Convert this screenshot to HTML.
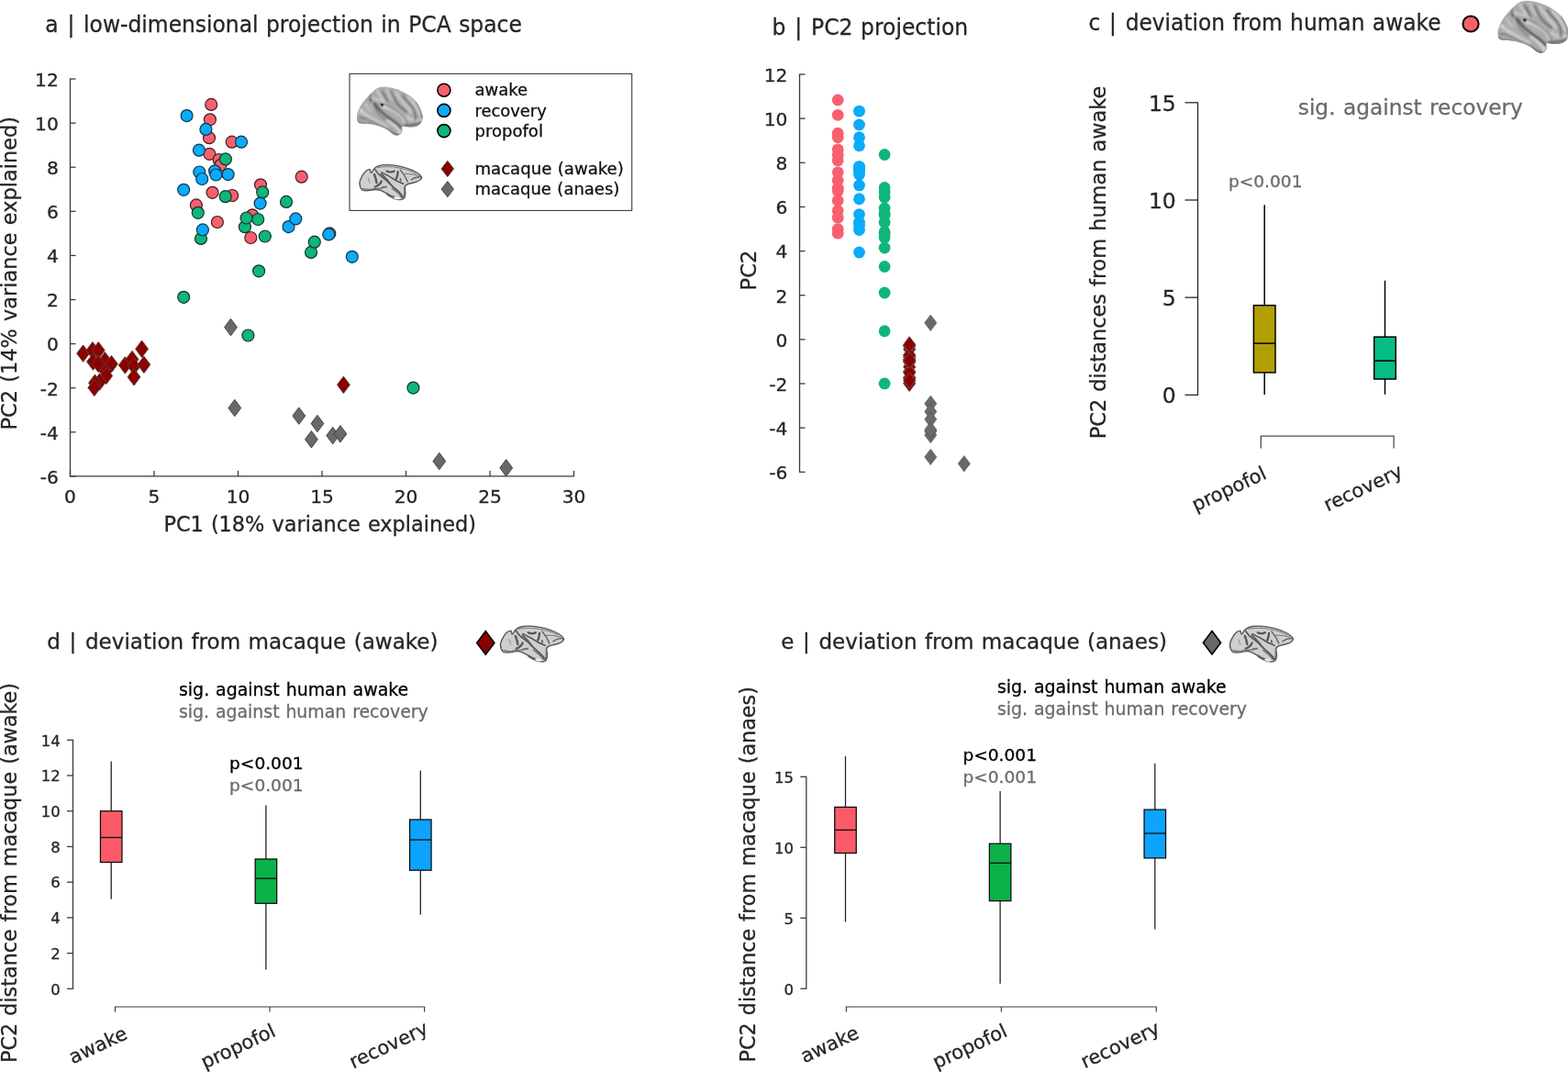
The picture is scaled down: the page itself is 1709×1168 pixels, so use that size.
<!DOCTYPE html>
<html lang="en"><head><meta charset="utf-8"><title>PCA projection figure</title>
<style>html,body{margin:0;padding:0;background:#fff}body{width:1709px;height:1168px;overflow:hidden}svg{display:block}text{font-family:'DejaVu Sans','Liberation Sans',sans-serif;white-space:pre}</style>
</head><body>
<svg width="1709" height="1168" viewBox="0 0 1709 1168" role="img" aria-label="PCA projection figure with panels a to e">
<defs><filter id="bl" x="-10%" y="-10%" width="120%" height="120%"><feGaussianBlur stdDeviation="17"/></filter><filter id="bl2" x="-50%" y="-50%" width="200%" height="200%"><feGaussianBlur stdDeviation="10"/></filter></defs>
<rect width="1709" height="1168" fill="#fff"/>
<g id="panel-a">
<text x="49.30" y="35.00" font-size="23.9" fill="#262626" text-anchor="start" word-spacing="1.08" stroke="#262626" stroke-width="0.3" textLength="519.50" lengthAdjust="spacingAndGlyphs" dx="0 1.31 0 1.31">a | low-dimensional projection in PCA space</text>
<line x1="76.50" y1="85.50" x2="76.50" y2="519.40" stroke="#3a3a3a" stroke-width="1.3"/>
<line x1="76.00" y1="518.90" x2="626.00" y2="518.90" stroke="#3a3a3a" stroke-width="1.3"/>
<line x1="76.50" y1="518.90" x2="82.50" y2="518.90" stroke="#3a3a3a" stroke-width="1.3"/>
<text x="63.80" y="526.70" font-size="20.2" fill="#262626" text-anchor="end" word-spacing="0.91" stroke="#262626" stroke-width="0.3">-6</text>
<line x1="76.50" y1="470.80" x2="82.50" y2="470.80" stroke="#3a3a3a" stroke-width="1.3"/>
<text x="63.80" y="478.60" font-size="20.2" fill="#262626" text-anchor="end" word-spacing="0.91" stroke="#262626" stroke-width="0.3">-4</text>
<line x1="76.50" y1="422.70" x2="82.50" y2="422.70" stroke="#3a3a3a" stroke-width="1.3"/>
<text x="63.80" y="430.50" font-size="20.2" fill="#262626" text-anchor="end" word-spacing="0.91" stroke="#262626" stroke-width="0.3">-2</text>
<line x1="76.50" y1="374.60" x2="82.50" y2="374.60" stroke="#3a3a3a" stroke-width="1.3"/>
<text x="63.80" y="382.40" font-size="20.2" fill="#262626" text-anchor="end" word-spacing="0.91" stroke="#262626" stroke-width="0.3">0</text>
<line x1="76.50" y1="326.50" x2="82.50" y2="326.50" stroke="#3a3a3a" stroke-width="1.3"/>
<text x="63.80" y="334.30" font-size="20.2" fill="#262626" text-anchor="end" word-spacing="0.91" stroke="#262626" stroke-width="0.3">2</text>
<line x1="76.50" y1="278.40" x2="82.50" y2="278.40" stroke="#3a3a3a" stroke-width="1.3"/>
<text x="63.80" y="286.20" font-size="20.2" fill="#262626" text-anchor="end" word-spacing="0.91" stroke="#262626" stroke-width="0.3">4</text>
<line x1="76.50" y1="230.30" x2="82.50" y2="230.30" stroke="#3a3a3a" stroke-width="1.3"/>
<text x="63.80" y="238.10" font-size="20.2" fill="#262626" text-anchor="end" word-spacing="0.91" stroke="#262626" stroke-width="0.3">6</text>
<line x1="76.50" y1="182.20" x2="82.50" y2="182.20" stroke="#3a3a3a" stroke-width="1.3"/>
<text x="63.80" y="190.00" font-size="20.2" fill="#262626" text-anchor="end" word-spacing="0.91" stroke="#262626" stroke-width="0.3">8</text>
<line x1="76.50" y1="134.10" x2="82.50" y2="134.10" stroke="#3a3a3a" stroke-width="1.3"/>
<text x="63.80" y="141.90" font-size="20.2" fill="#262626" text-anchor="end" word-spacing="0.91" stroke="#262626" stroke-width="0.3">10</text>
<line x1="76.50" y1="86.00" x2="82.50" y2="86.00" stroke="#3a3a3a" stroke-width="1.3"/>
<text x="63.80" y="93.80" font-size="20.2" fill="#262626" text-anchor="end" word-spacing="0.91" stroke="#262626" stroke-width="0.3">12</text>
<line x1="76.50" y1="518.90" x2="76.50" y2="512.90" stroke="#3a3a3a" stroke-width="1.3"/>
<text x="76.50" y="548.00" font-size="20.2" fill="#262626" text-anchor="middle" word-spacing="0.91" stroke="#262626" stroke-width="0.3">0</text>
<line x1="168.00" y1="518.90" x2="168.00" y2="512.90" stroke="#3a3a3a" stroke-width="1.3"/>
<text x="168.00" y="548.00" font-size="20.2" fill="#262626" text-anchor="middle" word-spacing="0.91" stroke="#262626" stroke-width="0.3">5</text>
<line x1="259.50" y1="518.90" x2="259.50" y2="512.90" stroke="#3a3a3a" stroke-width="1.3"/>
<text x="259.50" y="548.00" font-size="20.2" fill="#262626" text-anchor="middle" word-spacing="0.91" stroke="#262626" stroke-width="0.3">10</text>
<line x1="351.00" y1="518.90" x2="351.00" y2="512.90" stroke="#3a3a3a" stroke-width="1.3"/>
<text x="351.00" y="548.00" font-size="20.2" fill="#262626" text-anchor="middle" word-spacing="0.91" stroke="#262626" stroke-width="0.3">15</text>
<line x1="442.50" y1="518.90" x2="442.50" y2="512.90" stroke="#3a3a3a" stroke-width="1.3"/>
<text x="442.50" y="548.00" font-size="20.2" fill="#262626" text-anchor="middle" word-spacing="0.91" stroke="#262626" stroke-width="0.3">20</text>
<line x1="534.00" y1="518.90" x2="534.00" y2="512.90" stroke="#3a3a3a" stroke-width="1.3"/>
<text x="534.00" y="548.00" font-size="20.2" fill="#262626" text-anchor="middle" word-spacing="0.91" stroke="#262626" stroke-width="0.3">25</text>
<line x1="625.50" y1="518.90" x2="625.50" y2="512.90" stroke="#3a3a3a" stroke-width="1.3"/>
<text x="625.50" y="548.00" font-size="20.2" fill="#262626" text-anchor="middle" word-spacing="0.91" stroke="#262626" stroke-width="0.3">30</text>
<text x="178.40" y="578.50" font-size="22.6" fill="#262626" text-anchor="start" word-spacing="1.02" stroke="#262626" stroke-width="0.3" textLength="340.50" lengthAdjust="spacingAndGlyphs">PC1 (18% variance explained)</text>
<text x="17.80" y="297.70" font-size="22.6" fill="#262626" text-anchor="middle" word-spacing="1.02" stroke="#262626" stroke-width="0.3" transform="rotate(-90 17.80 297.70)" textLength="341.50" lengthAdjust="spacingAndGlyphs">PC2 (14% variance explained)</text>
<circle cx="230.20" cy="113.90" r="6.5" fill="#fa5f6e" stroke="#3d1f24" stroke-width="1.2"/>
<circle cx="228.90" cy="130.30" r="6.5" fill="#fa5f6e" stroke="#3d1f24" stroke-width="1.2"/>
<circle cx="228.00" cy="150.20" r="6.5" fill="#fa5f6e" stroke="#3d1f24" stroke-width="1.2"/>
<circle cx="252.70" cy="154.70" r="6.5" fill="#fa5f6e" stroke="#3d1f24" stroke-width="1.2"/>
<circle cx="228.30" cy="167.80" r="6.5" fill="#fa5f6e" stroke="#3d1f24" stroke-width="1.2"/>
<circle cx="238.60" cy="174.00" r="6.5" fill="#fa5f6e" stroke="#3d1f24" stroke-width="1.2"/>
<circle cx="240.50" cy="179.80" r="6.5" fill="#fa5f6e" stroke="#3d1f24" stroke-width="1.2"/>
<circle cx="328.70" cy="192.70" r="6.5" fill="#fa5f6e" stroke="#3d1f24" stroke-width="1.2"/>
<circle cx="284.00" cy="201.30" r="6.5" fill="#fa5f6e" stroke="#3d1f24" stroke-width="1.2"/>
<circle cx="231.50" cy="209.80" r="6.5" fill="#fa5f6e" stroke="#3d1f24" stroke-width="1.2"/>
<circle cx="253.20" cy="213.00" r="6.5" fill="#fa5f6e" stroke="#3d1f24" stroke-width="1.2"/>
<circle cx="213.90" cy="223.40" r="6.5" fill="#fa5f6e" stroke="#3d1f24" stroke-width="1.2"/>
<circle cx="275.00" cy="234.30" r="6.5" fill="#fa5f6e" stroke="#3d1f24" stroke-width="1.2"/>
<circle cx="236.90" cy="242.00" r="6.5" fill="#fa5f6e" stroke="#3d1f24" stroke-width="1.2"/>
<circle cx="359.30" cy="254.40" r="6.5" fill="#fa5f6e" stroke="#3d1f24" stroke-width="1.2"/>
<circle cx="245.90" cy="173.40" r="6.5" fill="#0fb679" stroke="#12332a" stroke-width="1.2"/>
<circle cx="286.20" cy="209.40" r="6.5" fill="#0fb679" stroke="#12332a" stroke-width="1.2"/>
<circle cx="245.70" cy="214.20" r="6.5" fill="#0fb679" stroke="#12332a" stroke-width="1.2"/>
<circle cx="312.00" cy="219.90" r="6.5" fill="#0fb679" stroke="#12332a" stroke-width="1.2"/>
<circle cx="215.80" cy="231.80" r="6.5" fill="#0fb679" stroke="#12332a" stroke-width="1.2"/>
<circle cx="266.90" cy="247.20" r="6.5" fill="#0fb679" stroke="#12332a" stroke-width="1.2"/>
<circle cx="268.60" cy="237.50" r="6.5" fill="#0fb679" stroke="#12332a" stroke-width="1.2"/>
<circle cx="281.20" cy="239.00" r="6.5" fill="#0fb679" stroke="#12332a" stroke-width="1.2"/>
<circle cx="288.80" cy="257.50" r="6.5" fill="#0fb679" stroke="#12332a" stroke-width="1.2"/>
<circle cx="219.00" cy="259.90" r="6.5" fill="#0fb679" stroke="#12332a" stroke-width="1.2"/>
<circle cx="339.00" cy="274.90" r="6.5" fill="#0fb679" stroke="#12332a" stroke-width="1.2"/>
<circle cx="342.80" cy="263.70" r="6.5" fill="#0fb679" stroke="#12332a" stroke-width="1.2"/>
<circle cx="282.10" cy="295.30" r="6.5" fill="#0fb679" stroke="#12332a" stroke-width="1.2"/>
<circle cx="200.20" cy="323.80" r="6.5" fill="#0fb679" stroke="#12332a" stroke-width="1.2"/>
<circle cx="270.40" cy="365.50" r="6.5" fill="#0fb679" stroke="#12332a" stroke-width="1.2"/>
<circle cx="450.40" cy="422.60" r="6.5" fill="#0fb679" stroke="#12332a" stroke-width="1.2"/>
<circle cx="203.60" cy="126.10" r="6.5" fill="#0aabf8" stroke="#0f3450" stroke-width="1.2"/>
<circle cx="224.40" cy="140.90" r="6.5" fill="#0aabf8" stroke="#0f3450" stroke-width="1.2"/>
<circle cx="263.00" cy="154.70" r="6.5" fill="#0aabf8" stroke="#0f3450" stroke-width="1.2"/>
<circle cx="216.90" cy="163.70" r="6.5" fill="#0aabf8" stroke="#0f3450" stroke-width="1.2"/>
<circle cx="217.30" cy="187.50" r="6.5" fill="#0aabf8" stroke="#0f3450" stroke-width="1.2"/>
<circle cx="220.20" cy="195.00" r="6.5" fill="#0aabf8" stroke="#0f3450" stroke-width="1.2"/>
<circle cx="234.10" cy="186.30" r="6.5" fill="#0aabf8" stroke="#0f3450" stroke-width="1.2"/>
<circle cx="235.40" cy="190.50" r="6.5" fill="#0aabf8" stroke="#0f3450" stroke-width="1.2"/>
<circle cx="248.60" cy="190.10" r="6.5" fill="#0aabf8" stroke="#0f3450" stroke-width="1.2"/>
<circle cx="200.20" cy="206.80" r="6.5" fill="#0aabf8" stroke="#0f3450" stroke-width="1.2"/>
<circle cx="283.60" cy="221.60" r="6.5" fill="#0aabf8" stroke="#0f3450" stroke-width="1.2"/>
<circle cx="314.50" cy="247.10" r="6.5" fill="#0aabf8" stroke="#0f3450" stroke-width="1.2"/>
<circle cx="322.30" cy="238.40" r="6.5" fill="#0aabf8" stroke="#0f3450" stroke-width="1.2"/>
<circle cx="220.90" cy="250.40" r="6.5" fill="#0aabf8" stroke="#0f3450" stroke-width="1.2"/>
<circle cx="358.30" cy="255.40" r="6.5" fill="#0aabf8" stroke="#0f3450" stroke-width="1.2"/>
<circle cx="383.80" cy="279.80" r="6.5" fill="#0aabf8" stroke="#0f3450" stroke-width="1.2"/>
<circle cx="273.30" cy="259.00" r="6.5" fill="#fa5f6e" stroke="#3d1f24" stroke-width="1.2"/>
<path d="M251.50 347.30L258.40 356.50L251.50 365.70L244.60 356.50Z" fill="#696969" stroke="#454545" stroke-width="1" stroke-linejoin="miter"/>
<path d="M255.80 435.30L262.70 444.50L255.80 453.70L248.90 444.50Z" fill="#696969" stroke="#454545" stroke-width="1" stroke-linejoin="miter"/>
<path d="M325.80 443.90L332.70 453.10L325.80 462.30L318.90 453.10Z" fill="#696969" stroke="#454545" stroke-width="1" stroke-linejoin="miter"/>
<path d="M345.90 452.30L352.80 461.50L345.90 470.70L339.00 461.50Z" fill="#696969" stroke="#454545" stroke-width="1" stroke-linejoin="miter"/>
<path d="M339.40 469.50L346.30 478.70L339.40 487.90L332.50 478.70Z" fill="#696969" stroke="#454545" stroke-width="1" stroke-linejoin="miter"/>
<path d="M362.70 465.40L369.60 474.60L362.70 483.80L355.80 474.60Z" fill="#696969" stroke="#454545" stroke-width="1" stroke-linejoin="miter"/>
<path d="M370.90 463.60L377.80 472.80L370.90 482.00L364.00 472.80Z" fill="#696969" stroke="#454545" stroke-width="1" stroke-linejoin="miter"/>
<path d="M478.80 493.30L485.70 502.50L478.80 511.70L471.90 502.50Z" fill="#696969" stroke="#454545" stroke-width="1" stroke-linejoin="miter"/>
<path d="M551.70 500.60L558.60 509.80L551.70 519.00L544.80 509.80Z" fill="#696969" stroke="#454545" stroke-width="1" stroke-linejoin="miter"/>
<path d="M90.60 375.90L97.50 385.10L90.60 394.30L83.70 385.10Z" fill="#8b0000" stroke="#5c3b34" stroke-width="1" stroke-linejoin="miter"/>
<path d="M100.90 372.60L107.80 381.80L100.90 391.00L94.00 381.80Z" fill="#8b0000" stroke="#5c3b34" stroke-width="1" stroke-linejoin="miter"/>
<path d="M107.30 372.60L114.20 381.80L107.30 391.00L100.40 381.80Z" fill="#8b0000" stroke="#5c3b34" stroke-width="1" stroke-linejoin="miter"/>
<path d="M101.50 384.90L108.40 394.10L101.50 403.30L94.60 394.10Z" fill="#8b0000" stroke="#5c3b34" stroke-width="1" stroke-linejoin="miter"/>
<path d="M114.40 383.60L121.30 392.80L114.40 402.00L107.50 392.80Z" fill="#8b0000" stroke="#5c3b34" stroke-width="1" stroke-linejoin="miter"/>
<path d="M107.30 387.40L114.20 396.60L107.30 405.80L100.40 396.60Z" fill="#8b0000" stroke="#5c3b34" stroke-width="1" stroke-linejoin="miter"/>
<path d="M121.50 387.40L128.40 396.60L121.50 405.80L114.60 396.60Z" fill="#8b0000" stroke="#5c3b34" stroke-width="1" stroke-linejoin="miter"/>
<path d="M115.10 395.20L122.00 404.40L115.10 413.60L108.20 404.40Z" fill="#8b0000" stroke="#5c3b34" stroke-width="1" stroke-linejoin="miter"/>
<path d="M115.70 400.30L122.60 409.50L115.70 418.70L108.80 409.50Z" fill="#8b0000" stroke="#5c3b34" stroke-width="1" stroke-linejoin="miter"/>
<path d="M108.60 406.80L115.50 416.00L108.60 425.20L101.70 416.00Z" fill="#8b0000" stroke="#5c3b34" stroke-width="1" stroke-linejoin="miter"/>
<path d="M103.50 408.00L110.40 417.20L103.50 426.40L96.60 417.20Z" fill="#8b0000" stroke="#5c3b34" stroke-width="1" stroke-linejoin="miter"/>
<path d="M102.80 413.20L109.70 422.40L102.80 431.60L95.90 422.40Z" fill="#8b0000" stroke="#5c3b34" stroke-width="1" stroke-linejoin="miter"/>
<path d="M136.30 388.70L143.20 397.90L136.30 407.10L129.40 397.90Z" fill="#8b0000" stroke="#5c3b34" stroke-width="1" stroke-linejoin="miter"/>
<path d="M144.00 382.30L150.90 391.50L144.00 400.70L137.10 391.50Z" fill="#8b0000" stroke="#5c3b34" stroke-width="1" stroke-linejoin="miter"/>
<path d="M146.00 390.00L152.90 399.20L146.00 408.40L139.10 399.20Z" fill="#8b0000" stroke="#5c3b34" stroke-width="1" stroke-linejoin="miter"/>
<path d="M146.00 401.60L152.90 410.80L146.00 420.00L139.10 410.80Z" fill="#8b0000" stroke="#5c3b34" stroke-width="1" stroke-linejoin="miter"/>
<path d="M154.60 371.00L161.50 380.20L154.60 389.40L147.70 380.20Z" fill="#8b0000" stroke="#5c3b34" stroke-width="1" stroke-linejoin="miter"/>
<path d="M156.90 388.10L163.80 397.30L156.90 406.50L150.00 397.30Z" fill="#8b0000" stroke="#5c3b34" stroke-width="1" stroke-linejoin="miter"/>
<path d="M374.40 410.10L381.30 419.30L374.40 428.50L367.50 419.30Z" fill="#8b0000" stroke="#5c3b34" stroke-width="1" stroke-linejoin="miter"/>
<rect x="381.0" y="80.4" width="307.7" height="149.0" fill="#fff" stroke="#3a3a3a" stroke-width="1.1"/>
<circle cx="483.90" cy="98.20" r="7.0" fill="#fa5f6e" stroke="#000" stroke-width="1.6"/>
<circle cx="483.90" cy="120.40" r="7.0" fill="#0aabf8" stroke="#000" stroke-width="1.6"/>
<circle cx="483.90" cy="142.60" r="7.0" fill="#0fb679" stroke="#000" stroke-width="1.6"/>
<path d="M487.80 175.30L494.40 183.90L487.80 192.50L481.20 183.90Z" fill="#8b0000" stroke="#4a2a2a" stroke-width="1" stroke-linejoin="miter"/>
<path d="M487.80 197.50L494.40 206.10L487.80 214.70L481.20 206.10Z" fill="#696969" stroke="#454545" stroke-width="1" stroke-linejoin="miter"/>
<text x="517.50" y="104.40" font-size="18.0" fill="#111" text-anchor="start" word-spacing="0.81" stroke="#111" stroke-width="0.3" textLength="57.60" lengthAdjust="spacingAndGlyphs">awake</text>
<text x="517.50" y="126.60" font-size="18.0" fill="#111" text-anchor="start" word-spacing="0.81" stroke="#111" stroke-width="0.3" textLength="78.30" lengthAdjust="spacingAndGlyphs">recovery</text>
<text x="517.50" y="148.80" font-size="18.0" fill="#111" text-anchor="start" word-spacing="0.81" stroke="#111" stroke-width="0.3" textLength="74.40" lengthAdjust="spacingAndGlyphs">propofol</text>
<text x="517.50" y="190.10" font-size="18.0" fill="#111" text-anchor="start" word-spacing="0.81" stroke="#111" stroke-width="0.3" textLength="162.30" lengthAdjust="spacingAndGlyphs">macaque (awake)</text>
<text x="517.50" y="212.30" font-size="18.0" fill="#111" text-anchor="start" word-spacing="0.81" stroke="#111" stroke-width="0.3" textLength="157.80" lengthAdjust="spacingAndGlyphs">macaque (anaes)</text>
<g transform="translate(380.00 85.00) scale(0.05992)">
<clipPath id="hb134"><path d="M150 700 C150 640 200 520 260 440 C330 350 400 280 470 220 C510 185 540 168 640 160 C750 163 860 193 960 238 C1060 283 1150 343 1230 428 C1290 508 1335 610 1350 700 C1350 790 1305 850 1225 885 C1140 902 1060 892 1000 877 C975 874 965 887 978 932 C985 1002 940 1042 870 1047 C820 1042 780 1002 720 952 C650 902 560 872 400 837 C300 832 220 832 185 817 C155 792 150 752 150 700 Z"/></clipPath>
<path d="M150 700 C150 640 200 520 260 440 C330 350 400 280 470 220 C510 185 540 168 640 160 C750 163 860 193 960 238 C1060 283 1150 343 1230 428 C1290 508 1335 610 1350 700 C1350 790 1305 850 1225 885 C1140 902 1060 892 1000 877 C975 874 965 887 978 932 C985 1002 940 1042 870 1047 C820 1042 780 1002 720 952 C650 902 560 872 400 837 C300 832 220 832 185 817 C155 792 150 752 150 700 Z" fill="#ababab"/>
<g clip-path="url(#hb134)" fill="none" stroke-linecap="round" filter="url(#bl)">
<path d="M430 470 C500 600 620 700 760 800 C850 860 910 920 930 990" stroke="#dadada" stroke-width="50"/>
<path d="M640 520 C740 540 860 600 960 680 C1000 720 1020 760 1030 800" stroke="#d6d6d6" stroke-width="60"/>
<path d="M520 230 C560 290 600 350 640 420" stroke="#cacaca" stroke-width="40"/>
<path d="M690 200 C720 260 750 320 790 400" stroke="#c8c8c8" stroke-width="36"/>
<path d="M860 260 C900 330 950 400 1010 470 C1060 520 1100 560 1130 620" stroke="#cccccc" stroke-width="44"/>
<path d="M1080 350 C1160 420 1240 520 1290 660" stroke="#c9c9c9" stroke-width="54"/>
<path d="M210 600 C280 640 350 690 430 740 C520 790 600 830 680 880" stroke="#cbcbcb" stroke-width="60"/>
<path d="M1060 700 C1120 760 1200 790 1300 760" stroke="#c6c6c6" stroke-width="60"/>
<path d="M400 330 C430 360 470 380 520 390 C580 400 640 420 700 460" stroke="#cecece" stroke-width="34"/>
<path d="M300 470 C330 520 360 560 400 600" stroke="#c6c6c6" stroke-width="40"/>
<path d="M480 470 C540 590 640 670 760 750 C850 810 910 850 945 905" stroke="#505050" stroke-width="46"/>
<path d="M380 380 C420 430 460 500 490 560 C530 640 600 700 680 760" stroke="#696969" stroke-width="26"/>
<path d="M600 240 C640 300 680 370 710 440" stroke="#676767" stroke-width="30"/>
<path d="M770 250 C800 320 840 400 890 470 C940 530 1000 580 1060 620" stroke="#656565" stroke-width="30"/>
<path d="M980 320 C1040 390 1110 460 1170 540 C1210 610 1230 690 1210 770" stroke="#686868" stroke-width="32"/>
<path d="M620 470 C700 490 760 530 820 570 C900 620 960 660 1010 720 C1040 770 1055 810 1055 850" stroke="#727272" stroke-width="26"/>
<path d="M190 720 C270 720 350 750 430 790 C530 840 630 880 720 940" stroke="#767676" stroke-width="30"/>
<path d="M1010 870 C1100 870 1200 860 1310 810" stroke="#707070" stroke-width="50"/>
<path d="M720 960 C790 1010 850 1050 910 1040" stroke="#6c6c6c" stroke-width="50"/>
<path d="M150 770 C160 810 200 835 400 845" stroke="#707070" stroke-width="34"/>
<path d="M390 300 C400 340 410 380 400 410" stroke="#707070" stroke-width="30"/>
<path d="M1240 440 C1290 520 1330 620 1345 720" stroke="#787878" stroke-width="34"/>
</g>
<g clip-path="url(#hb134)"><path d="M575 460 L640 475 L615 520 L590 505 Z" fill="#2e2e2e" filter="url(#bl2)"/>
<path d="M385 395 L410 400 L400 420 Z" fill="#555" filter="url(#bl2)"/>
<ellipse cx="232" cy="588" rx="30" ry="24" fill="#d0d0d0" filter="url(#bl2)"/></g>
</g>
<g transform="translate(380.00 170.50) scale(0.05139 0.04959)">
<path d="M232 585 C238 510 285 425 335 350 C365 308 410 284 448 280 C462 296 462 328 468 350 C480 358 496 352 506 322 C530 262 600 212 700 190 C800 177 950 188 1050 208 C1200 238 1330 283 1440 348 C1500 388 1540 428 1552 470 C1530 512 1480 547 1400 570 C1330 587 1270 597 1225 622 C1190 652 1180 682 1195 717 C1210 782 1205 862 1185 912 C1160 947 1110 957 1040 944 C980 937 930 912 880 867 C830 827 760 782 680 744 C610 717 540 722 470 744 C400 757 330 754 290 740 C255 702 234 645 232 585 Z" fill="#cfcfcf" stroke="#565656" stroke-width="27" stroke-linejoin="round"/>
<g fill="none" stroke="#5c5c5c" stroke-linecap="round" stroke-linejoin="round">
<path d="M690 380 C760 450 830 520 880 600 C930 670 1000 720 1060 775 C1100 810 1130 850 1150 900" stroke-width="36" stroke="#555"/>
<path d="M560 285 C600 360 660 420 730 470 C800 520 840 560 880 610" stroke-width="32" stroke="#5a5a5a"/>
<path d="M700 350 C770 385 840 420 900 460 C960 505 1050 560 1160 600" stroke-width="32" stroke="#555"/>
<path d="M810 320 C850 350 900 352 965 322" stroke-width="42" stroke="#505050"/>
<path d="M1045 335 C1042 400 1028 450 1010 490" stroke-width="42" stroke="#505050"/>
<path d="M1100 300 C1160 370 1215 460 1250 555" stroke-width="29" stroke="#606060"/>
<path d="M1190 378 C1280 386 1390 382 1480 420" stroke-width="23" stroke="#777"/>
<path d="M1330 510 C1390 465 1470 440 1540 452" stroke-width="29" stroke="#606060"/>
<path d="M545 395 C570 460 588 520 592 575" stroke-width="48" stroke="#5a5a5a"/>
<path d="M695 540 C685 590 635 635 560 668" stroke-width="42" stroke="#555"/>
<path d="M700 688 C730 672 760 666 795 670" stroke-width="42" stroke="#707070"/>
<path d="M920 700 C990 760 1080 810 1120 900" stroke-width="23" stroke="#666"/>
<path d="M825 830 C860 862 905 882 965 902" stroke-width="48" stroke="#5a5a5a"/>
<path d="M620 242 C760 217 900 217 1050 247 C1200 277 1320 312 1420 372" stroke-width="19" stroke="#7a7a7a"/>
<path d="M410 470 C430 515 445 540 445 580" stroke-width="23" stroke="#9a9a9a"/>
<path d="M1098 490 C1094 510 1100 526 1106 532" stroke-width="32" stroke="#606060"/>
<path d="M300 702 C340 722 400 732 470 722 C540 702 600 692 680 702" stroke-width="26" stroke="#777"/>
<path d="M1180 690 C1190 760 1185 830 1165 900" stroke-width="23" stroke="#777"/>
</g>
<path d="M940 907 C990 877 1060 882 1100 932 C1050 952 990 942 940 907Z" fill="#f4f4f4"/>
</g>
</g>
<g id="panel-b">
<text x="841.60" y="37.60" font-size="23.9" fill="#262626" text-anchor="start" word-spacing="1.08" stroke="#262626" stroke-width="0.3" textLength="213.60" lengthAdjust="spacingAndGlyphs" dx="0 1.31 0 1.31">b | PC2 projection</text>
<line x1="871.50" y1="80.50" x2="871.50" y2="514.80" stroke="#3a3a3a" stroke-width="1.3"/>
<line x1="871.50" y1="514.30" x2="877.50" y2="514.30" stroke="#3a3a3a" stroke-width="1.3"/>
<text x="858.40" y="522.10" font-size="20.2" fill="#262626" text-anchor="end" word-spacing="0.91" stroke="#262626" stroke-width="0.3">-6</text>
<line x1="871.50" y1="466.16" x2="877.50" y2="466.16" stroke="#3a3a3a" stroke-width="1.3"/>
<text x="858.40" y="473.96" font-size="20.2" fill="#262626" text-anchor="end" word-spacing="0.91" stroke="#262626" stroke-width="0.3">-4</text>
<line x1="871.50" y1="418.01" x2="877.50" y2="418.01" stroke="#3a3a3a" stroke-width="1.3"/>
<text x="858.40" y="425.81" font-size="20.2" fill="#262626" text-anchor="end" word-spacing="0.91" stroke="#262626" stroke-width="0.3">-2</text>
<line x1="871.50" y1="369.87" x2="877.50" y2="369.87" stroke="#3a3a3a" stroke-width="1.3"/>
<text x="858.40" y="377.67" font-size="20.2" fill="#262626" text-anchor="end" word-spacing="0.91" stroke="#262626" stroke-width="0.3">0</text>
<line x1="871.50" y1="321.72" x2="877.50" y2="321.72" stroke="#3a3a3a" stroke-width="1.3"/>
<text x="858.40" y="329.52" font-size="20.2" fill="#262626" text-anchor="end" word-spacing="0.91" stroke="#262626" stroke-width="0.3">2</text>
<line x1="871.50" y1="273.58" x2="877.50" y2="273.58" stroke="#3a3a3a" stroke-width="1.3"/>
<text x="858.40" y="281.38" font-size="20.2" fill="#262626" text-anchor="end" word-spacing="0.91" stroke="#262626" stroke-width="0.3">4</text>
<line x1="871.50" y1="225.43" x2="877.50" y2="225.43" stroke="#3a3a3a" stroke-width="1.3"/>
<text x="858.40" y="233.23" font-size="20.2" fill="#262626" text-anchor="end" word-spacing="0.91" stroke="#262626" stroke-width="0.3">6</text>
<line x1="871.50" y1="177.29" x2="877.50" y2="177.29" stroke="#3a3a3a" stroke-width="1.3"/>
<text x="858.40" y="185.09" font-size="20.2" fill="#262626" text-anchor="end" word-spacing="0.91" stroke="#262626" stroke-width="0.3">8</text>
<line x1="871.50" y1="129.14" x2="877.50" y2="129.14" stroke="#3a3a3a" stroke-width="1.3"/>
<text x="858.40" y="136.94" font-size="20.2" fill="#262626" text-anchor="end" word-spacing="0.91" stroke="#262626" stroke-width="0.3">10</text>
<line x1="871.50" y1="81.00" x2="877.50" y2="81.00" stroke="#3a3a3a" stroke-width="1.3"/>
<text x="858.40" y="88.80" font-size="20.2" fill="#262626" text-anchor="end" word-spacing="0.91" stroke="#262626" stroke-width="0.3">12</text>
<text x="823.80" y="294.50" font-size="22.6" fill="#262626" text-anchor="middle" word-spacing="1.02" stroke="#262626" stroke-width="0.3" transform="rotate(-90 823.80 294.50)">PC2</text>
<circle cx="913.20" cy="108.93" r="6.4" fill="#fa5f6e"/>
<circle cx="913.20" cy="125.34" r="6.4" fill="#fa5f6e"/>
<circle cx="913.20" cy="145.26" r="6.4" fill="#fa5f6e"/>
<circle cx="913.20" cy="149.76" r="6.4" fill="#fa5f6e"/>
<circle cx="913.20" cy="162.88" r="6.4" fill="#fa5f6e"/>
<circle cx="913.20" cy="169.08" r="6.4" fill="#fa5f6e"/>
<circle cx="913.20" cy="174.89" r="6.4" fill="#fa5f6e"/>
<circle cx="913.20" cy="187.80" r="6.4" fill="#fa5f6e"/>
<circle cx="913.20" cy="196.41" r="6.4" fill="#fa5f6e"/>
<circle cx="913.20" cy="204.91" r="6.4" fill="#fa5f6e"/>
<circle cx="913.20" cy="208.12" r="6.4" fill="#fa5f6e"/>
<circle cx="913.20" cy="218.53" r="6.4" fill="#fa5f6e"/>
<circle cx="913.20" cy="229.44" r="6.4" fill="#fa5f6e"/>
<circle cx="913.20" cy="237.14" r="6.4" fill="#fa5f6e"/>
<circle cx="913.20" cy="249.56" r="6.4" fill="#fa5f6e"/>
<circle cx="913.20" cy="254.16" r="6.4" fill="#fa5f6e"/>
<circle cx="936.50" cy="121.14" r="6.4" fill="#0aabf8"/>
<circle cx="936.50" cy="135.95" r="6.4" fill="#0aabf8"/>
<circle cx="936.50" cy="149.76" r="6.4" fill="#0aabf8"/>
<circle cx="936.50" cy="158.77" r="6.4" fill="#0aabf8"/>
<circle cx="936.50" cy="182.59" r="6.4" fill="#0aabf8"/>
<circle cx="936.50" cy="190.10" r="6.4" fill="#0aabf8"/>
<circle cx="936.50" cy="181.39" r="6.4" fill="#0aabf8"/>
<circle cx="936.50" cy="185.60" r="6.4" fill="#0aabf8"/>
<circle cx="936.50" cy="185.20" r="6.4" fill="#0aabf8"/>
<circle cx="936.50" cy="201.91" r="6.4" fill="#0aabf8"/>
<circle cx="936.50" cy="216.73" r="6.4" fill="#0aabf8"/>
<circle cx="936.50" cy="242.25" r="6.4" fill="#0aabf8"/>
<circle cx="936.50" cy="233.54" r="6.4" fill="#0aabf8"/>
<circle cx="936.50" cy="245.55" r="6.4" fill="#0aabf8"/>
<circle cx="936.50" cy="250.56" r="6.4" fill="#0aabf8"/>
<circle cx="936.50" cy="274.98" r="6.4" fill="#0aabf8"/>
<circle cx="964.10" cy="168.48" r="6.4" fill="#0fb679"/>
<circle cx="964.10" cy="204.51" r="6.4" fill="#0fb679"/>
<circle cx="964.10" cy="209.32" r="6.4" fill="#0fb679"/>
<circle cx="964.10" cy="215.02" r="6.4" fill="#0fb679"/>
<circle cx="964.10" cy="226.93" r="6.4" fill="#0fb679"/>
<circle cx="964.10" cy="242.35" r="6.4" fill="#0fb679"/>
<circle cx="964.10" cy="232.64" r="6.4" fill="#0fb679"/>
<circle cx="964.10" cy="234.14" r="6.4" fill="#0fb679"/>
<circle cx="964.10" cy="252.66" r="6.4" fill="#0fb679"/>
<circle cx="964.10" cy="255.06" r="6.4" fill="#0fb679"/>
<circle cx="964.10" cy="270.07" r="6.4" fill="#0fb679"/>
<circle cx="964.10" cy="258.86" r="6.4" fill="#0fb679"/>
<circle cx="964.10" cy="290.49" r="6.4" fill="#0fb679"/>
<circle cx="964.10" cy="319.02" r="6.4" fill="#0fb679"/>
<circle cx="964.10" cy="360.76" r="6.4" fill="#0fb679"/>
<circle cx="964.10" cy="417.91" r="6.4" fill="#0fb679"/>
<path d="M1014.30 343.05L1020.90 351.75L1014.30 360.45L1007.70 351.75Z" fill="#696969" stroke="#555" stroke-width="0.6" stroke-linejoin="miter"/>
<path d="M1014.30 431.13L1020.90 439.83L1014.30 448.53L1007.70 439.83Z" fill="#696969" stroke="#555" stroke-width="0.6" stroke-linejoin="miter"/>
<path d="M1014.30 439.74L1020.90 448.44L1014.30 457.14L1007.70 448.44Z" fill="#696969" stroke="#555" stroke-width="0.6" stroke-linejoin="miter"/>
<path d="M1014.30 448.15L1020.90 456.85L1014.30 465.55L1007.70 456.85Z" fill="#696969" stroke="#555" stroke-width="0.6" stroke-linejoin="miter"/>
<path d="M1014.30 465.36L1020.90 474.06L1014.30 482.76L1007.70 474.06Z" fill="#696969" stroke="#555" stroke-width="0.6" stroke-linejoin="miter"/>
<path d="M1014.30 461.26L1020.90 469.96L1014.30 478.66L1007.70 469.96Z" fill="#696969" stroke="#555" stroke-width="0.6" stroke-linejoin="miter"/>
<path d="M1014.30 459.46L1020.90 468.16L1014.30 476.86L1007.70 468.16Z" fill="#696969" stroke="#555" stroke-width="0.6" stroke-linejoin="miter"/>
<path d="M1014.30 489.18L1020.90 497.88L1014.30 506.58L1007.70 497.88Z" fill="#696969" stroke="#555" stroke-width="0.6" stroke-linejoin="miter"/>
<path d="M1050.80 496.49L1057.40 505.19L1050.80 513.89L1044.20 505.19Z" fill="#696969" stroke="#555" stroke-width="0.6" stroke-linejoin="miter"/>
<path d="M991.20 371.68L997.80 380.38L991.20 389.08L984.60 380.38Z" fill="#8b0000" stroke="#6a4a44" stroke-width="1" stroke-linejoin="miter"/>
<path d="M991.20 368.37L997.80 377.07L991.20 385.77L984.60 377.07Z" fill="#8b0000" stroke="#6a4a44" stroke-width="1" stroke-linejoin="miter"/>
<path d="M991.20 368.37L997.80 377.07L991.20 385.77L984.60 377.07Z" fill="#8b0000" stroke="#6a4a44" stroke-width="1" stroke-linejoin="miter"/>
<path d="M991.20 380.68L997.80 389.38L991.20 398.08L984.60 389.38Z" fill="#8b0000" stroke="#6a4a44" stroke-width="1" stroke-linejoin="miter"/>
<path d="M991.20 379.38L997.80 388.08L991.20 396.78L984.60 388.08Z" fill="#8b0000" stroke="#6a4a44" stroke-width="1" stroke-linejoin="miter"/>
<path d="M991.20 383.19L997.80 391.89L991.20 400.59L984.60 391.89Z" fill="#8b0000" stroke="#6a4a44" stroke-width="1" stroke-linejoin="miter"/>
<path d="M991.20 383.19L997.80 391.89L991.20 400.59L984.60 391.89Z" fill="#8b0000" stroke="#6a4a44" stroke-width="1" stroke-linejoin="miter"/>
<path d="M991.20 390.99L997.80 399.69L991.20 408.39L984.60 399.69Z" fill="#8b0000" stroke="#6a4a44" stroke-width="1" stroke-linejoin="miter"/>
<path d="M991.20 396.10L997.80 404.80L991.20 413.50L984.60 404.80Z" fill="#8b0000" stroke="#6a4a44" stroke-width="1" stroke-linejoin="miter"/>
<path d="M991.20 402.60L997.80 411.30L991.20 420.00L984.60 411.30Z" fill="#8b0000" stroke="#6a4a44" stroke-width="1" stroke-linejoin="miter"/>
<path d="M991.20 403.81L997.80 412.51L991.20 421.21L984.60 412.51Z" fill="#8b0000" stroke="#6a4a44" stroke-width="1" stroke-linejoin="miter"/>
<path d="M991.20 409.01L997.80 417.71L991.20 426.41L984.60 417.71Z" fill="#8b0000" stroke="#6a4a44" stroke-width="1" stroke-linejoin="miter"/>
<path d="M991.20 384.49L997.80 393.19L991.20 401.89L984.60 393.19Z" fill="#8b0000" stroke="#6a4a44" stroke-width="1" stroke-linejoin="miter"/>
<path d="M991.20 378.08L997.80 386.78L991.20 395.48L984.60 386.78Z" fill="#8b0000" stroke="#6a4a44" stroke-width="1" stroke-linejoin="miter"/>
<path d="M991.20 385.79L997.80 394.49L991.20 403.19L984.60 394.49Z" fill="#8b0000" stroke="#6a4a44" stroke-width="1" stroke-linejoin="miter"/>
<path d="M991.20 397.40L997.80 406.10L991.20 414.80L984.60 406.10Z" fill="#8b0000" stroke="#6a4a44" stroke-width="1" stroke-linejoin="miter"/>
<path d="M991.20 366.77L997.80 375.47L991.20 384.17L984.60 375.47Z" fill="#8b0000" stroke="#6a4a44" stroke-width="1" stroke-linejoin="miter"/>
<path d="M991.20 383.89L997.80 392.59L991.20 401.29L984.60 392.59Z" fill="#8b0000" stroke="#6a4a44" stroke-width="1" stroke-linejoin="miter"/>
<path d="M991.20 405.91L997.80 414.61L991.20 423.31L984.60 414.61Z" fill="#8b0000" stroke="#6a4a44" stroke-width="1" stroke-linejoin="miter"/>
</g>
<g id="panel-c">
<text x="1186.50" y="33.00" font-size="23.9" fill="#262626" text-anchor="start" word-spacing="1.08" stroke="#262626" stroke-width="0.3" textLength="384.00" lengthAdjust="spacingAndGlyphs" dx="0 1.31 0 1.31">c | deviation from human awake</text>
<circle cx="1603.00" cy="26.00" r="8.6" fill="#fb5f6d" stroke="#000" stroke-width="2.0"/>
<g transform="translate(1622.72 -9.66) scale(0.06459)">
<clipPath id="hb294"><path d="M150 700 C150 640 200 520 260 440 C330 350 400 280 470 220 C510 185 540 168 640 160 C750 163 860 193 960 238 C1060 283 1150 343 1230 428 C1290 508 1335 610 1350 700 C1350 790 1305 850 1225 885 C1140 902 1060 892 1000 877 C975 874 965 887 978 932 C985 1002 940 1042 870 1047 C820 1042 780 1002 720 952 C650 902 560 872 400 837 C300 832 220 832 185 817 C155 792 150 752 150 700 Z"/></clipPath>
<path d="M150 700 C150 640 200 520 260 440 C330 350 400 280 470 220 C510 185 540 168 640 160 C750 163 860 193 960 238 C1060 283 1150 343 1230 428 C1290 508 1335 610 1350 700 C1350 790 1305 850 1225 885 C1140 902 1060 892 1000 877 C975 874 965 887 978 932 C985 1002 940 1042 870 1047 C820 1042 780 1002 720 952 C650 902 560 872 400 837 C300 832 220 832 185 817 C155 792 150 752 150 700 Z" fill="#ababab"/>
<g clip-path="url(#hb294)" fill="none" stroke-linecap="round" filter="url(#bl)">
<path d="M430 470 C500 600 620 700 760 800 C850 860 910 920 930 990" stroke="#dadada" stroke-width="50"/>
<path d="M640 520 C740 540 860 600 960 680 C1000 720 1020 760 1030 800" stroke="#d6d6d6" stroke-width="60"/>
<path d="M520 230 C560 290 600 350 640 420" stroke="#cacaca" stroke-width="40"/>
<path d="M690 200 C720 260 750 320 790 400" stroke="#c8c8c8" stroke-width="36"/>
<path d="M860 260 C900 330 950 400 1010 470 C1060 520 1100 560 1130 620" stroke="#cccccc" stroke-width="44"/>
<path d="M1080 350 C1160 420 1240 520 1290 660" stroke="#c9c9c9" stroke-width="54"/>
<path d="M210 600 C280 640 350 690 430 740 C520 790 600 830 680 880" stroke="#cbcbcb" stroke-width="60"/>
<path d="M1060 700 C1120 760 1200 790 1300 760" stroke="#c6c6c6" stroke-width="60"/>
<path d="M400 330 C430 360 470 380 520 390 C580 400 640 420 700 460" stroke="#cecece" stroke-width="34"/>
<path d="M300 470 C330 520 360 560 400 600" stroke="#c6c6c6" stroke-width="40"/>
<path d="M480 470 C540 590 640 670 760 750 C850 810 910 850 945 905" stroke="#505050" stroke-width="46"/>
<path d="M380 380 C420 430 460 500 490 560 C530 640 600 700 680 760" stroke="#696969" stroke-width="26"/>
<path d="M600 240 C640 300 680 370 710 440" stroke="#676767" stroke-width="30"/>
<path d="M770 250 C800 320 840 400 890 470 C940 530 1000 580 1060 620" stroke="#656565" stroke-width="30"/>
<path d="M980 320 C1040 390 1110 460 1170 540 C1210 610 1230 690 1210 770" stroke="#686868" stroke-width="32"/>
<path d="M620 470 C700 490 760 530 820 570 C900 620 960 660 1010 720 C1040 770 1055 810 1055 850" stroke="#727272" stroke-width="26"/>
<path d="M190 720 C270 720 350 750 430 790 C530 840 630 880 720 940" stroke="#767676" stroke-width="30"/>
<path d="M1010 870 C1100 870 1200 860 1310 810" stroke="#707070" stroke-width="50"/>
<path d="M720 960 C790 1010 850 1050 910 1040" stroke="#6c6c6c" stroke-width="50"/>
<path d="M150 770 C160 810 200 835 400 845" stroke="#707070" stroke-width="34"/>
<path d="M390 300 C400 340 410 380 400 410" stroke="#707070" stroke-width="30"/>
<path d="M1240 440 C1290 520 1330 620 1345 720" stroke="#787878" stroke-width="34"/>
</g>
<g clip-path="url(#hb294)"><path d="M575 460 L640 475 L615 520 L590 505 Z" fill="#2e2e2e" filter="url(#bl2)"/>
<path d="M385 395 L410 400 L400 420 Z" fill="#555" filter="url(#bl2)"/>
<ellipse cx="232" cy="588" rx="30" ry="24" fill="#d0d0d0" filter="url(#bl2)"/></g>
</g>
<line x1="1305.50" y1="111.20" x2="1305.50" y2="430.90" stroke="#262626" stroke-width="1.3"/>
<line x1="1291.50" y1="430.30" x2="1305.50" y2="430.30" stroke="#262626" stroke-width="1.3"/>
<text x="1281.80" y="439.20" font-size="23.5" fill="#262626" text-anchor="end" word-spacing="1.06" stroke="#262626" stroke-width="0.3">0</text>
<line x1="1291.50" y1="324.13" x2="1305.50" y2="324.13" stroke="#262626" stroke-width="1.3"/>
<text x="1281.80" y="333.03" font-size="23.5" fill="#262626" text-anchor="end" word-spacing="1.06" stroke="#262626" stroke-width="0.3">5</text>
<line x1="1291.50" y1="217.97" x2="1305.50" y2="217.97" stroke="#262626" stroke-width="1.3"/>
<text x="1281.80" y="226.87" font-size="23.5" fill="#262626" text-anchor="end" word-spacing="1.06" stroke="#262626" stroke-width="0.3">10</text>
<line x1="1291.50" y1="111.80" x2="1305.50" y2="111.80" stroke="#262626" stroke-width="1.3"/>
<text x="1281.80" y="120.70" font-size="23.5" fill="#262626" text-anchor="end" word-spacing="1.06" stroke="#262626" stroke-width="0.3">15</text>
<text x="1205.00" y="286.00" font-size="22.4" fill="#262626" text-anchor="middle" word-spacing="1.01" stroke="#262626" stroke-width="0.3" transform="rotate(-90 1205.00 286.00)">PC2 distances from human awake</text>
<text x="1414.80" y="125.00" font-size="23.4" fill="#6b6b6b" text-anchor="start" word-spacing="1.05" stroke="#6b6b6b" stroke-width="0.3" textLength="245.00" lengthAdjust="spacingAndGlyphs">sig. against recovery</text>
<text x="1338.90" y="203.80" font-size="18.4" fill="#6b6b6b" text-anchor="start" word-spacing="0.83" stroke="#6b6b6b" stroke-width="0.3" textLength="80.60" lengthAdjust="spacingAndGlyphs">p&lt;0.001</text>
<line x1="1378.20" y1="223.30" x2="1378.20" y2="430.10" stroke="#000" stroke-width="1.5"/>
<rect x="1366.40" y="332.70" width="23.60" height="73.20" fill="#b2a003" stroke="#000" stroke-width="1.5"/>
<line x1="1366.40" y1="374.10" x2="1390.00" y2="374.10" stroke="#000" stroke-width="1.5"/>
<line x1="1509.50" y1="305.70" x2="1509.50" y2="429.80" stroke="#000" stroke-width="1.5"/>
<rect x="1497.70" y="367.10" width="23.60" height="45.90" fill="#05bd83" stroke="#000" stroke-width="1.5"/>
<line x1="1497.70" y1="393.10" x2="1521.30" y2="393.10" stroke="#000" stroke-width="1.5"/>
<line x1="1373.70" y1="475.20" x2="1519.80" y2="475.20" stroke="#4f4f4f" stroke-width="1.3"/>
<line x1="1374.30" y1="475.00" x2="1374.30" y2="488.50" stroke="#4f4f4f" stroke-width="1.3"/>
<line x1="1519.10" y1="475.00" x2="1519.10" y2="488.50" stroke="#4f4f4f" stroke-width="1.3"/>
<text x="1381.80" y="520.90" font-size="21.0" fill="#262626" text-anchor="end" word-spacing="0.94" stroke="#262626" stroke-width="0.3" transform="rotate(-25 1381.80 520.90)">propofol</text>
<clipPath id="rl1"><path d="M0 0H1525.80V526.40H1516.30V1168H0Z"/></clipPath>
<g clip-path="url(#rl1)">
<text x="1530.30" y="518.60" font-size="21.0" fill="#262626" text-anchor="end" word-spacing="0.94" stroke="#262626" stroke-width="0.3" transform="rotate(-25 1530.30 518.60)">recovery</text>
</g>
</g>
<g id="panel-d">
<text x="51.30" y="706.80" font-size="23.5" fill="#262626" text-anchor="start" word-spacing="1.06" stroke="#262626" stroke-width="0.3" textLength="426.20" lengthAdjust="spacingAndGlyphs" dx="0 1.29 0 1.29">d | deviation from macaque (awake)</text>
<path d="M529.30 687.70L538.90 700.40L529.30 713.10L519.70 700.40Z" fill="#8b0000" stroke="#000" stroke-width="1.6" stroke-linejoin="miter"/>
<g transform="translate(533.26 672.93) scale(0.05242 0.05058)">
<path d="M232 585 C238 510 285 425 335 350 C365 308 410 284 448 280 C462 296 462 328 468 350 C480 358 496 352 506 322 C530 262 600 212 700 190 C800 177 950 188 1050 208 C1200 238 1330 283 1440 348 C1500 388 1540 428 1552 470 C1530 512 1480 547 1400 570 C1330 587 1270 597 1225 622 C1190 652 1180 682 1195 717 C1210 782 1205 862 1185 912 C1160 947 1110 957 1040 944 C980 937 930 912 880 867 C830 827 760 782 680 744 C610 717 540 722 470 744 C400 757 330 754 290 740 C255 702 234 645 232 585 Z" fill="#cfcfcf" stroke="#565656" stroke-width="27" stroke-linejoin="round"/>
<g fill="none" stroke="#5c5c5c" stroke-linecap="round" stroke-linejoin="round">
<path d="M690 380 C760 450 830 520 880 600 C930 670 1000 720 1060 775 C1100 810 1130 850 1150 900" stroke-width="36" stroke="#555"/>
<path d="M560 285 C600 360 660 420 730 470 C800 520 840 560 880 610" stroke-width="32" stroke="#5a5a5a"/>
<path d="M700 350 C770 385 840 420 900 460 C960 505 1050 560 1160 600" stroke-width="32" stroke="#555"/>
<path d="M810 320 C850 350 900 352 965 322" stroke-width="42" stroke="#505050"/>
<path d="M1045 335 C1042 400 1028 450 1010 490" stroke-width="42" stroke="#505050"/>
<path d="M1100 300 C1160 370 1215 460 1250 555" stroke-width="29" stroke="#606060"/>
<path d="M1190 378 C1280 386 1390 382 1480 420" stroke-width="23" stroke="#777"/>
<path d="M1330 510 C1390 465 1470 440 1540 452" stroke-width="29" stroke="#606060"/>
<path d="M545 395 C570 460 588 520 592 575" stroke-width="48" stroke="#5a5a5a"/>
<path d="M695 540 C685 590 635 635 560 668" stroke-width="42" stroke="#555"/>
<path d="M700 688 C730 672 760 666 795 670" stroke-width="42" stroke="#707070"/>
<path d="M920 700 C990 760 1080 810 1120 900" stroke-width="23" stroke="#666"/>
<path d="M825 830 C860 862 905 882 965 902" stroke-width="48" stroke="#5a5a5a"/>
<path d="M620 242 C760 217 900 217 1050 247 C1200 277 1320 312 1420 372" stroke-width="19" stroke="#7a7a7a"/>
<path d="M410 470 C430 515 445 540 445 580" stroke-width="23" stroke="#9a9a9a"/>
<path d="M1098 490 C1094 510 1100 526 1106 532" stroke-width="32" stroke="#606060"/>
<path d="M300 702 C340 722 400 732 470 722 C540 702 600 692 680 702" stroke-width="26" stroke="#777"/>
<path d="M1180 690 C1190 760 1185 830 1165 900" stroke-width="23" stroke="#777"/>
</g>
<path d="M940 907 C990 877 1060 882 1100 932 C1050 952 990 942 940 907Z" fill="#f4f4f4"/>
</g>
<text x="195.00" y="757.60" font-size="19" fill="#000" text-anchor="start" word-spacing="0.85" stroke="#000" stroke-width="0.3" textLength="250.20" lengthAdjust="spacingAndGlyphs">sig. against human awake</text>
<text x="195.00" y="781.80" font-size="19" fill="#6b6b6b" text-anchor="start" word-spacing="0.85" stroke="#6b6b6b" stroke-width="0.3" textLength="271.80" lengthAdjust="spacingAndGlyphs">sig. against human recovery</text>
<text x="250.00" y="837.50" font-size="18.3" fill="#000" text-anchor="start" word-spacing="0.82" stroke="#000" stroke-width="0.3" textLength="80.60" lengthAdjust="spacingAndGlyphs">p&lt;0.001</text>
<text x="250.00" y="861.60" font-size="18.3" fill="#6b6b6b" text-anchor="start" word-spacing="0.82" stroke="#6b6b6b" stroke-width="0.3" textLength="80.60" lengthAdjust="spacingAndGlyphs">p&lt;0.001</text>
<line x1="79.50" y1="805.80" x2="79.50" y2="1077.80" stroke="#3a3a3a" stroke-width="1.3"/>
<line x1="73.00" y1="1077.30" x2="79.50" y2="1077.30" stroke="#3a3a3a" stroke-width="1.3"/>
<text x="65.70" y="1083.60" font-size="16.5" fill="#262626" text-anchor="end" word-spacing="0.74" stroke="#262626" stroke-width="0.3">0</text>
<line x1="73.00" y1="1038.59" x2="79.50" y2="1038.59" stroke="#3a3a3a" stroke-width="1.3"/>
<text x="65.70" y="1044.89" font-size="16.5" fill="#262626" text-anchor="end" word-spacing="0.74" stroke="#262626" stroke-width="0.3">2</text>
<line x1="73.00" y1="999.87" x2="79.50" y2="999.87" stroke="#3a3a3a" stroke-width="1.3"/>
<text x="65.70" y="1006.17" font-size="16.5" fill="#262626" text-anchor="end" word-spacing="0.74" stroke="#262626" stroke-width="0.3">4</text>
<line x1="73.00" y1="961.16" x2="79.50" y2="961.16" stroke="#3a3a3a" stroke-width="1.3"/>
<text x="65.70" y="967.46" font-size="16.5" fill="#262626" text-anchor="end" word-spacing="0.74" stroke="#262626" stroke-width="0.3">6</text>
<line x1="73.00" y1="922.44" x2="79.50" y2="922.44" stroke="#3a3a3a" stroke-width="1.3"/>
<text x="65.70" y="928.74" font-size="16.5" fill="#262626" text-anchor="end" word-spacing="0.74" stroke="#262626" stroke-width="0.3">8</text>
<line x1="73.00" y1="883.73" x2="79.50" y2="883.73" stroke="#3a3a3a" stroke-width="1.3"/>
<text x="65.70" y="890.03" font-size="16.5" fill="#262626" text-anchor="end" word-spacing="0.74" stroke="#262626" stroke-width="0.3">10</text>
<line x1="73.00" y1="845.01" x2="79.50" y2="845.01" stroke="#3a3a3a" stroke-width="1.3"/>
<text x="65.70" y="851.31" font-size="16.5" fill="#262626" text-anchor="end" word-spacing="0.74" stroke="#262626" stroke-width="0.3">12</text>
<line x1="73.00" y1="806.30" x2="79.50" y2="806.30" stroke="#3a3a3a" stroke-width="1.3"/>
<text x="65.70" y="812.60" font-size="16.5" fill="#262626" text-anchor="end" word-spacing="0.74" stroke="#262626" stroke-width="0.3">14</text>
<text x="17.70" y="951.00" font-size="22.3" fill="#262626" text-anchor="middle" word-spacing="1.00" stroke="#262626" stroke-width="0.3" transform="rotate(-90 17.70 951.00)">PC2 distance from macaque (awake)</text>
<line x1="121.20" y1="829.60" x2="121.20" y2="979.80" stroke="#1a1a1a" stroke-width="1.25"/>
<rect x="109.45" y="883.70" width="23.50" height="55.80" fill="#fc5a69" stroke="#0a0a0a" stroke-width="1.25"/>
<line x1="109.45" y1="912.50" x2="132.95" y2="912.50" stroke="#0a0a0a" stroke-width="1.25"/>
<line x1="289.90" y1="877.50" x2="289.90" y2="1056.50" stroke="#1a1a1a" stroke-width="1.25"/>
<rect x="278.15" y="936.00" width="23.50" height="48.30" fill="#0cb14a" stroke="#0a0a0a" stroke-width="1.25"/>
<line x1="278.15" y1="957.10" x2="301.65" y2="957.10" stroke="#0a0a0a" stroke-width="1.25"/>
<line x1="458.30" y1="839.50" x2="458.30" y2="996.60" stroke="#1a1a1a" stroke-width="1.25"/>
<rect x="446.55" y="893.00" width="23.50" height="55.20" fill="#0ea3fc" stroke="#0a0a0a" stroke-width="1.25"/>
<line x1="446.55" y1="915.00" x2="470.05" y2="915.00" stroke="#0a0a0a" stroke-width="1.25"/>
<line x1="125.00" y1="1097.00" x2="463.10" y2="1097.00" stroke="#3a3a3a" stroke-width="1.15"/>
<line x1="125.50" y1="1097.00" x2="125.50" y2="1102.50" stroke="#3a3a3a" stroke-width="1.15"/>
<text x="140.20" y="1131.00" font-size="21.0" fill="#262626" text-anchor="end" word-spacing="0.94" stroke="#262626" stroke-width="0.3" transform="rotate(-25 140.20 1131.00)">awake</text>
<line x1="294.00" y1="1097.00" x2="294.00" y2="1102.50" stroke="#3a3a3a" stroke-width="1.15"/>
<text x="301.80" y="1128.20" font-size="21.0" fill="#262626" text-anchor="end" word-spacing="0.94" stroke="#262626" stroke-width="0.3" transform="rotate(-25 301.80 1128.20)">propofol</text>
<line x1="462.60" y1="1097.00" x2="462.60" y2="1102.50" stroke="#3a3a3a" stroke-width="1.15"/>
<clipPath id="rl2"><path d="M0 0H463.40V1133.40H453.90V1168H0Z"/></clipPath>
<g clip-path="url(#rl2)">
<text x="468.20" y="1125.60" font-size="21.0" fill="#262626" text-anchor="end" word-spacing="0.94" stroke="#262626" stroke-width="0.3" transform="rotate(-25 468.20 1125.60)">recovery</text>
</g>
</g>
<g id="panel-e">
<text x="851.30" y="706.80" font-size="23.5" fill="#262626" text-anchor="start" word-spacing="1.06" stroke="#262626" stroke-width="0.3" textLength="420.60" lengthAdjust="spacingAndGlyphs" dx="0 1.29 0 1.29">e | deviation from macaque (anaes)</text>
<path d="M1321.00 687.50L1330.60 700.20L1321.00 712.90L1311.40 700.20Z" fill="#696969" stroke="#000" stroke-width="1.6" stroke-linejoin="miter"/>
<g transform="translate(1328.26 672.93) scale(0.05242 0.05058)">
<path d="M232 585 C238 510 285 425 335 350 C365 308 410 284 448 280 C462 296 462 328 468 350 C480 358 496 352 506 322 C530 262 600 212 700 190 C800 177 950 188 1050 208 C1200 238 1330 283 1440 348 C1500 388 1540 428 1552 470 C1530 512 1480 547 1400 570 C1330 587 1270 597 1225 622 C1190 652 1180 682 1195 717 C1210 782 1205 862 1185 912 C1160 947 1110 957 1040 944 C980 937 930 912 880 867 C830 827 760 782 680 744 C610 717 540 722 470 744 C400 757 330 754 290 740 C255 702 234 645 232 585 Z" fill="#cfcfcf" stroke="#565656" stroke-width="27" stroke-linejoin="round"/>
<g fill="none" stroke="#5c5c5c" stroke-linecap="round" stroke-linejoin="round">
<path d="M690 380 C760 450 830 520 880 600 C930 670 1000 720 1060 775 C1100 810 1130 850 1150 900" stroke-width="36" stroke="#555"/>
<path d="M560 285 C600 360 660 420 730 470 C800 520 840 560 880 610" stroke-width="32" stroke="#5a5a5a"/>
<path d="M700 350 C770 385 840 420 900 460 C960 505 1050 560 1160 600" stroke-width="32" stroke="#555"/>
<path d="M810 320 C850 350 900 352 965 322" stroke-width="42" stroke="#505050"/>
<path d="M1045 335 C1042 400 1028 450 1010 490" stroke-width="42" stroke="#505050"/>
<path d="M1100 300 C1160 370 1215 460 1250 555" stroke-width="29" stroke="#606060"/>
<path d="M1190 378 C1280 386 1390 382 1480 420" stroke-width="23" stroke="#777"/>
<path d="M1330 510 C1390 465 1470 440 1540 452" stroke-width="29" stroke="#606060"/>
<path d="M545 395 C570 460 588 520 592 575" stroke-width="48" stroke="#5a5a5a"/>
<path d="M695 540 C685 590 635 635 560 668" stroke-width="42" stroke="#555"/>
<path d="M700 688 C730 672 760 666 795 670" stroke-width="42" stroke="#707070"/>
<path d="M920 700 C990 760 1080 810 1120 900" stroke-width="23" stroke="#666"/>
<path d="M825 830 C860 862 905 882 965 902" stroke-width="48" stroke="#5a5a5a"/>
<path d="M620 242 C760 217 900 217 1050 247 C1200 277 1320 312 1420 372" stroke-width="19" stroke="#7a7a7a"/>
<path d="M410 470 C430 515 445 540 445 580" stroke-width="23" stroke="#9a9a9a"/>
<path d="M1098 490 C1094 510 1100 526 1106 532" stroke-width="32" stroke="#606060"/>
<path d="M300 702 C340 722 400 732 470 722 C540 702 600 692 680 702" stroke-width="26" stroke="#777"/>
<path d="M1180 690 C1190 760 1185 830 1165 900" stroke-width="23" stroke="#777"/>
</g>
<path d="M940 907 C990 877 1060 882 1100 932 C1050 952 990 942 940 907Z" fill="#f4f4f4"/>
</g>
<text x="1087.00" y="754.80" font-size="19" fill="#000" text-anchor="start" word-spacing="0.85" stroke="#000" stroke-width="0.3" textLength="249.60" lengthAdjust="spacingAndGlyphs">sig. against human awake</text>
<text x="1087.00" y="779.20" font-size="19" fill="#6b6b6b" text-anchor="start" word-spacing="0.85" stroke="#6b6b6b" stroke-width="0.3" textLength="272.00" lengthAdjust="spacingAndGlyphs">sig. against human recovery</text>
<text x="1049.40" y="829.00" font-size="18.3" fill="#000" text-anchor="start" word-spacing="0.82" stroke="#000" stroke-width="0.3" textLength="80.60" lengthAdjust="spacingAndGlyphs">p&lt;0.001</text>
<text x="1049.40" y="853.20" font-size="18.3" fill="#6b6b6b" text-anchor="start" word-spacing="0.82" stroke="#6b6b6b" stroke-width="0.3" textLength="80.60" lengthAdjust="spacingAndGlyphs">p&lt;0.001</text>
<line x1="878.80" y1="845.80" x2="878.80" y2="1077.70" stroke="#3a3a3a" stroke-width="1.3"/>
<line x1="872.30" y1="1077.20" x2="878.80" y2="1077.20" stroke="#3a3a3a" stroke-width="1.3"/>
<text x="865.00" y="1083.50" font-size="16.5" fill="#262626" text-anchor="end" word-spacing="0.74" stroke="#262626" stroke-width="0.3">0</text>
<line x1="872.30" y1="1000.23" x2="878.80" y2="1000.23" stroke="#3a3a3a" stroke-width="1.3"/>
<text x="865.00" y="1006.53" font-size="16.5" fill="#262626" text-anchor="end" word-spacing="0.74" stroke="#262626" stroke-width="0.3">5</text>
<line x1="872.30" y1="923.27" x2="878.80" y2="923.27" stroke="#3a3a3a" stroke-width="1.3"/>
<text x="865.00" y="929.57" font-size="16.5" fill="#262626" text-anchor="end" word-spacing="0.74" stroke="#262626" stroke-width="0.3">10</text>
<line x1="872.30" y1="846.30" x2="878.80" y2="846.30" stroke="#3a3a3a" stroke-width="1.3"/>
<text x="865.00" y="852.60" font-size="16.5" fill="#262626" text-anchor="end" word-spacing="0.74" stroke="#262626" stroke-width="0.3">15</text>
<text x="822.80" y="952.80" font-size="22.3" fill="#262626" text-anchor="middle" word-spacing="1.00" stroke="#262626" stroke-width="0.3" transform="rotate(-90 822.80 952.80)">PC2 distance from macaque (anaes)</text>
<line x1="921.50" y1="824.00" x2="921.50" y2="1004.40" stroke="#1a1a1a" stroke-width="1.25"/>
<rect x="909.75" y="879.40" width="23.50" height="50.10" fill="#fc5a69" stroke="#0a0a0a" stroke-width="1.25"/>
<line x1="909.75" y1="904.30" x2="933.25" y2="904.30" stroke="#0a0a0a" stroke-width="1.25"/>
<line x1="1090.10" y1="862.00" x2="1090.10" y2="1071.80" stroke="#1a1a1a" stroke-width="1.25"/>
<rect x="1078.35" y="919.20" width="23.50" height="62.40" fill="#0cb14a" stroke="#0a0a0a" stroke-width="1.25"/>
<line x1="1078.35" y1="940.30" x2="1101.85" y2="940.30" stroke="#0a0a0a" stroke-width="1.25"/>
<line x1="1258.80" y1="831.70" x2="1258.80" y2="1012.50" stroke="#1a1a1a" stroke-width="1.25"/>
<rect x="1247.05" y="882.10" width="23.50" height="52.80" fill="#0ea3fc" stroke="#0a0a0a" stroke-width="1.25"/>
<line x1="1247.05" y1="908.00" x2="1270.55" y2="908.00" stroke="#0a0a0a" stroke-width="1.25"/>
<line x1="921.90" y1="1097.00" x2="1260.80" y2="1097.00" stroke="#3a3a3a" stroke-width="1.15"/>
<line x1="922.40" y1="1097.00" x2="922.40" y2="1102.50" stroke="#3a3a3a" stroke-width="1.15"/>
<text x="937.60" y="1130.20" font-size="21.0" fill="#262626" text-anchor="end" word-spacing="0.94" stroke="#262626" stroke-width="0.3" transform="rotate(-25 937.60 1130.20)">awake</text>
<line x1="1091.40" y1="1097.00" x2="1091.40" y2="1102.50" stroke="#3a3a3a" stroke-width="1.15"/>
<text x="1099.30" y="1128.20" font-size="21.0" fill="#262626" text-anchor="end" word-spacing="0.94" stroke="#262626" stroke-width="0.3" transform="rotate(-25 1099.30 1128.20)">propofol</text>
<line x1="1260.30" y1="1097.00" x2="1260.30" y2="1102.50" stroke="#3a3a3a" stroke-width="1.15"/>
<clipPath id="rl3"><path d="M0 0H1261.60V1133.30H1252.10V1168H0Z"/></clipPath>
<g clip-path="url(#rl3)">
<text x="1265.60" y="1125.50" font-size="21.0" fill="#262626" text-anchor="end" word-spacing="0.94" stroke="#262626" stroke-width="0.3" transform="rotate(-25 1265.60 1125.50)">recovery</text>
</g>
</g>
</svg></body></html>
